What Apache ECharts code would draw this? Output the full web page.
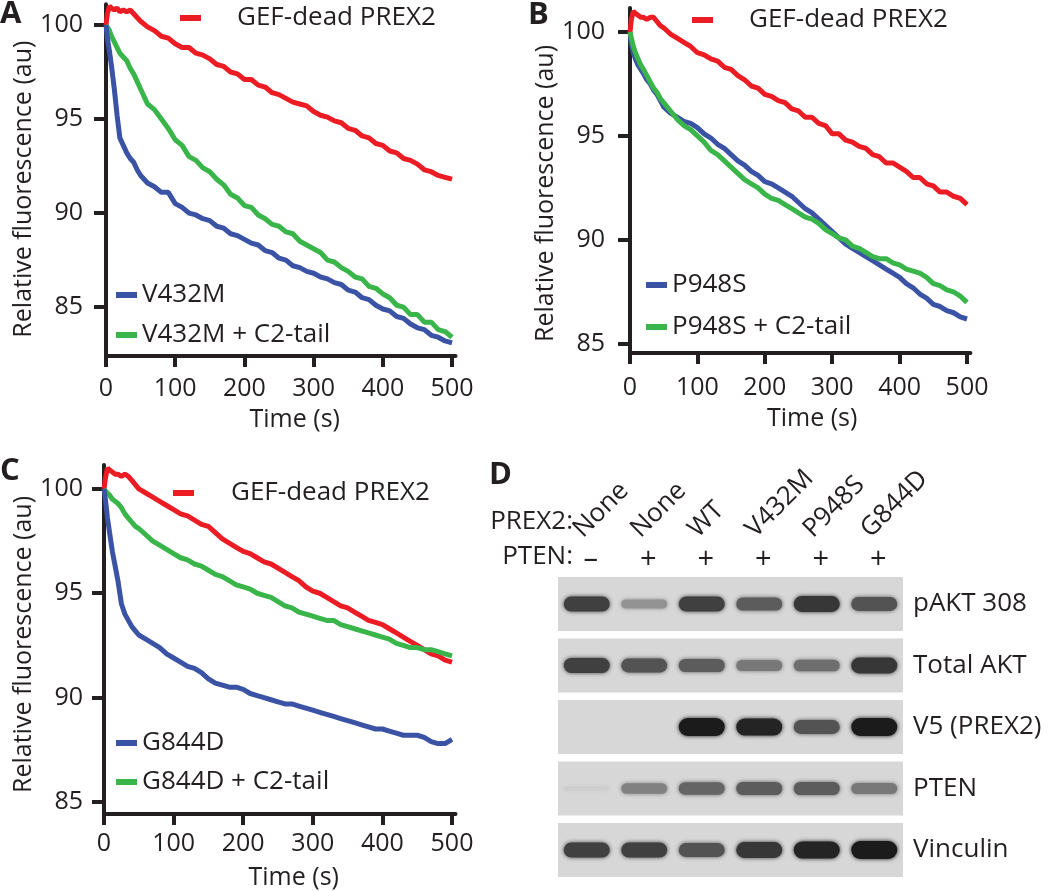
<!DOCTYPE html>
<html>
<head>
<meta charset="utf-8">
<script src="https://cdn.jsdelivr.net/npm/echarts@6/dist/echarts.min.js"></script>
<style>
html,body{margin:0;padding:0;background:#fff;}
#chart{width:1050px;height:891px;}
</style>
</head>
<body>
<div id="chart"></div>
<script>
// ---------- DATA ----------
const times = [0,2,5,8,12,16,20,25,30,35,40,45,50,60,70,80,90,100,110,120,130,140,150,160,170,180,190,200,210,220,230,240,250,260,270,280,290,300,310,320,330,340,350,360,370,380,390,400,410,420,430,440,450,460,470,480,490,500];

const aRed   = [100,100.6,101.0,100.9,100.8,100.9,100.7,100.8,100.7,100.8,100.6,100.4,100.2,99.9,99.7,99.4,99.3,99.0,98.8,98.8,98.5,98.4,98.2,97.9,97.8,97.5,97.4,97.1,97.1,96.8,96.7,96.4,96.3,96.1,95.9,95.8,95.7,95.4,95.2,95.1,94.9,94.8,94.5,94.4,94.1,94.0,93.7,93.6,93.3,93.2,92.9,92.8,92.6,92.3,92.2,92.0,91.9,91.8];
const aBlue  = [100,99.3,98.6,97.8,96.6,95.2,94.0,93.6,93.2,92.9,92.7,92.3,92.0,91.6,91.4,91.1,91.1,90.5,90.3,90.0,89.9,89.7,89.6,89.3,89.2,88.9,88.8,88.6,88.4,88.3,88.0,87.9,87.6,87.5,87.2,87.1,86.9,86.8,86.6,86.5,86.3,86.2,85.9,85.8,85.5,85.4,85.1,84.9,84.8,84.5,84.4,84.1,83.9,83.8,83.5,83.4,83.2,83.1];
const aGreen = [100,99.9,99.7,99.4,99.1,98.8,98.5,98.3,98.1,97.7,97.4,97.0,96.6,95.8,95.5,95.0,94.5,93.9,93.6,93.0,92.8,92.4,92.2,91.8,91.5,91.0,90.8,90.4,90.3,89.9,89.7,89.4,89.3,89.0,88.9,88.5,88.3,88.1,87.9,87.5,87.4,87.1,86.9,86.6,86.5,86.1,86.0,85.7,85.5,85.1,85.0,84.6,84.6,84.2,84.2,83.8,83.7,83.4];

const bRed   = [100,100.6,101.0,100.9,100.8,100.7,100.7,100.6,100.7,100.7,100.5,100.3,100.2,99.9,99.7,99.5,99.3,99.0,98.9,98.7,98.6,98.3,98.2,97.9,97.7,97.4,97.3,97.0,96.9,96.7,96.6,96.3,96.2,95.9,95.9,95.6,95.5,95.1,95.1,94.8,94.7,94.5,94.4,94.1,94.0,93.7,93.7,93.5,93.3,93.0,93.0,92.7,92.6,92.3,92.3,92.1,92.0,91.7];
const bBlue  = [100,99.4,99.0,98.7,98.4,98.2,98.0,97.7,97.5,97.2,97.0,96.7,96.4,96.1,95.9,95.7,95.6,95.4,95.1,94.9,94.6,94.4,94.1,93.8,93.6,93.3,93.1,92.8,92.7,92.5,92.3,92.1,91.8,91.5,91.3,91.0,90.7,90.4,90.1,89.8,89.6,89.4,89.2,89.0,88.8,88.6,88.4,88.2,87.9,87.7,87.4,87.2,86.9,86.8,86.6,86.5,86.3,86.2];
const bGreen = [100,99.7,99.3,99.0,98.7,98.4,98.2,97.9,97.6,97.3,97.1,96.8,96.6,96.2,95.8,95.5,95.3,95.0,94.7,94.3,94.1,93.8,93.5,93.2,92.9,92.7,92.5,92.2,92.0,91.9,91.7,91.5,91.3,91.1,91.0,90.8,90.5,90.3,90.1,90.0,89.7,89.6,89.4,89.2,89.1,89.1,88.9,88.8,88.6,88.5,88.4,88.2,87.9,87.8,87.6,87.5,87.3,87.0];

const cRed   = [100,100.5,101.0,100.9,100.8,100.7,100.7,100.6,100.7,100.6,100.4,100.2,100.0,99.8,99.6,99.4,99.2,99.0,98.8,98.7,98.5,98.3,98.2,97.9,97.6,97.4,97.2,97.0,96.9,96.7,96.5,96.4,96.2,96.0,95.8,95.6,95.3,95.1,95.0,94.8,94.6,94.4,94.3,94.1,93.9,93.7,93.6,93.5,93.3,93.1,92.9,92.7,92.5,92.3,92.1,92.0,91.8,91.7];
const cBlue  = [100,99.5,98.6,97.9,97.0,96.3,95.6,94.5,94.0,93.7,93.4,93.2,93.0,92.8,92.6,92.4,92.1,91.9,91.7,91.5,91.4,91.2,90.9,90.7,90.6,90.5,90.5,90.4,90.2,90.1,90.0,89.9,89.8,89.7,89.7,89.6,89.5,89.4,89.3,89.2,89.1,89.0,88.9,88.8,88.7,88.6,88.5,88.5,88.4,88.3,88.2,88.2,88.2,88.1,87.9,87.8,87.8,88.0];
const cGreen = [100,99.9,99.8,99.7,99.5,99.4,99.3,99.1,98.8,98.6,98.4,98.2,98.1,97.8,97.5,97.3,97.1,96.9,96.7,96.6,96.4,96.3,96.1,95.9,95.8,95.6,95.4,95.3,95.2,95.0,94.9,94.8,94.6,94.4,94.3,94.1,94.0,93.9,93.8,93.7,93.7,93.5,93.4,93.3,93.2,93.1,93.0,92.9,92.8,92.6,92.5,92.4,92.4,92.3,92.3,92.2,92.1,92.0];

const xTicks = [0,100,200,300,400,500];
const yTicks = [85,90,95,100];

const laneNames = ['None','None','WT','V432M','P948S','G844D'];
const ptenSigns = ['\u2013','+','+','+','+','+'];
const blotRows  = ['pAKT 308','Total AKT','V5 (PREX2)','PTEN','Vinculin'];
const pakt308   = [0.80,0.35,0.80,0.65,0.85,0.70];
const totalAkt  = [0.80,0.70,0.65,0.50,0.55,0.85];
const v5prex2   = [0,0,1.00,0.95,0.70,1.00];
const ptenBand  = [0.03,0.45,0.60,0.65,0.65,0.50];
const vinculin  = [0.80,0.80,0.70,0.85,0.95,1.00];

// ---------- STYLE ----------
const FONT = 'Open Sans';
const FS = 25;
const FL = 26;
const INK = '#231f20';
const RED = '#ec1c24', BLUE = '#3a53a4', GREEN = '#3ab54a';

function pairs(ys){ return times.map((t,i)=>[t, ys[i]]); }

function xAxisFor(gi, labelMargin, nameGap, namePad){
  return {
    type:'value', gridIndex:gi, min:0, max:505,
    axisLine:{show:true, lineStyle:{color:INK, width:4}},
    axisTick:{show:true, customValues:xTicks, length:11, lineStyle:{color:INK, width:4}},
    axisLabel:{customValues:xTicks, margin:labelMargin, fontFamily:FONT, fontSize:FS, color:INK},
    splitLine:{show:false},
    name:'Time (s)', nameLocation:'middle', nameGap:nameGap,
    nameTextStyle:{fontFamily:FONT, fontSize:FS, color:INK, padding:[0,0,0,namePad]}
  };
}
function yAxisFor(gi, mn, mx, labelMargin, nameGap, namePad){
  return {
    type:'value', gridIndex:gi, min:mn, max:mx,
    axisLine:{show:true, lineStyle:{color:INK, width:4}},
    axisTick:{show:true, customValues:yTicks, length:12, lineStyle:{color:INK, width:4}},
    axisLabel:{customValues:yTicks, margin:labelMargin, fontFamily:FONT, fontSize:FS, color:INK},
    splitLine:{show:false},
    name:'Relative fluorescence (au)', nameLocation:'middle', nameGap:nameGap,
    nameTextStyle:{fontFamily:FONT, fontSize:FS, color:INK, padding:[0,namePad,0,0]}
  };
}
function lineSeries(name, color, gi, ys){
  return {
    type:'line', name:name, xAxisIndex:gi, yAxisIndex:gi, data:pairs(ys),
    showSymbol:false, symbol:'none', lineStyle:{color:color, width:5}, itemStyle:{color:color},
    animation:false, z:3
  };
}
function legendFor(names, left, top, gap, padLeft){
  return {
    data:names, left:left, top:top, orient:'vertical', itemGap:gap, padding:0,
    icon:'rect', itemWidth:21, itemHeight:6, selectedMode:false,
    textStyle:{fontFamily:FONT, fontSize:FL, color:INK, lineHeight:28, padding:[0,0,0,padLeft]}
  };
}

const bandData = [];
[pakt308,totalAkt,v5prex2,ptenBand,vinculin].forEach((row,r)=>{
  row.forEach((v,l)=>bandData.push([l,r,v]));
});
const stripData = blotRows.map((_,r)=>[0,r]);
const laneData = laneNames.map((_,i)=>[i,0]);

const chart = echarts.init(document.getElementById('chart'), null, {renderer:'canvas'});
chart.setOption({
  animation:false,
  backgroundColor:'#ffffff',
  grid:[
    {left:106, top:4.3, width:349.5, height:351.7},
    {left:630, top:8, width:340.4, height:344.9},
    {left:104, top:465, width:351.5, height:352.1},
    {left:558, top:573.25, width:345, height:307.5}
  ],
  xAxis:[
    xAxisFor(0,20,51,28),
    xAxisFor(1,22,53,24),
    xAxisFor(2,17,51,28),
    {type:'category', gridIndex:3, position:'top', data:ptenSigns,
     axisLine:{show:false}, axisTick:{show:false},
     axisLabel:{margin:14, verticalAlign:'middle', padding:[0,0,0,8], fontFamily:FONT, fontSize:29, color:INK, interval:0}}
  ],
  yAxis:[
    yAxisFor(0,82.4,101.1,23,66,18),
    yAxisFor(1,84.57,101.15,25,70,26),
    yAxisFor(2,84.43,101.14,21,65,10),
    {type:'category', gridIndex:3, position:'right', inverse:true, data:blotRows,
     axisLine:{show:false}, axisTick:{show:false},
     axisLabel:{margin:10, fontFamily:FONT, fontSize:FL, color:INK, align:'left'}}
  ],
  legend:[
    legendFor(['GEF-dead PREX2'],180,4,0,31),
    legendFor(['V432M','V432M + C2-tail'],116,281,12,0),
    legendFor(['GEF-dead PREX2'],692,6,0,31),
    legendFor(['P948S','P948S + C2-tail'],646,271,14,0),
    legendFor(['GEF-dead PREX2'],173,479,0,32),
    legendFor(['G844D','G844D + C2-tail'],116,729,11,0)
  ],
  series:[
    lineSeries('GEF-dead PREX2',RED,0,aRed),
    lineSeries('V432M + C2-tail',GREEN,0,aGreen),
    lineSeries('V432M',BLUE,0,aBlue),
    lineSeries('GEF-dead PREX2',RED,1,bRed),
    lineSeries('P948S',BLUE,1,bBlue),
    lineSeries('P948S + C2-tail',GREEN,1,bGreen),
    lineSeries('GEF-dead PREX2',RED,2,cRed),
    lineSeries('G844D + C2-tail',GREEN,2,cGreen),
    lineSeries('G844D',BLUE,2,cBlue),
    {
      type:'custom', name:'strips', xAxisIndex:3, yAxisIndex:3, data:stripData, z:1,
      renderItem:function(params, api){
        const cs = params.coordSys;
        const c = api.coord([0, api.value(1)]);
        const h = api.size([1,1])[1]*0.88;
        return {type:'rect', shape:{x:cs.x, y:c[1]-h/2, width:cs.width, height:h},
                style:{fill:'#d7d7d7'}};
      }
    },
    {
      type:'custom', name:'bands', xAxisIndex:3, yAxisIndex:3, data:bandData, z:2,
      renderItem:function(params, api){
        const v = api.value(2);
        if (v <= 0) return null;
        const c = api.coord([api.value(0), api.value(1)]);
        const sz = api.size([1,1]);
        const w = sz[0]*0.8, h = sz[1]*(0.07+0.22*v);
        const g = Math.round(212 - 185*v);
        const col = 'rgb('+g+','+g+','+g+')';
        return {type:'rect', shape:{x:c[0]-w/2, y:c[1]-h/2, width:w, height:h, r:h/2},
                style:{fill:col, shadowBlur:4, shadowColor:col}};
      }
    },
    {
      type:'custom', name:'lanes', xAxisIndex:3, yAxisIndex:3, data:laneData, z:2, clip:false,
      renderItem:function(params, api){
        const i = api.value(0);
        const c = api.coord([i, 0]);
        const cs = params.coordSys;
        return {type:'text', x:c[0]-9, y:cs.y-40, rotation:Math.PI/4,
                style:{text:laneNames[i], font:'26px "Open Sans"', fill:INK,
                       align:'left', verticalAlign:'middle'}};
      }
    }
  ],
  graphic:[
    {type:'text', style:{x:0, y:14, text:'A', font:'bold 31px "Open Sans"', fill:INK, textVerticalAlign:'middle'}},
    {type:'text', style:{x:528, y:15, text:'B', font:'bold 31px "Open Sans"', fill:INK, textVerticalAlign:'middle'}},
    {type:'text', style:{x:0, y:471, text:'C', font:'bold 31px "Open Sans"', fill:INK, textVerticalAlign:'middle'}},
    {type:'text', style:{x:489, y:475, text:'D', font:'bold 31px "Open Sans"', fill:INK, textVerticalAlign:'middle'}},
    {type:'text', style:{x:573, y:522, text:'PREX2:', font:FL+'px "Open Sans"', fill:INK, textAlign:'right', textVerticalAlign:'middle'}},
    {type:'text', style:{x:573, y:557, text:'PTEN:', font:FL+'px "Open Sans"', fill:INK, textAlign:'right', textVerticalAlign:'middle'}}
  ]
});
</script>
</body>
</html>
